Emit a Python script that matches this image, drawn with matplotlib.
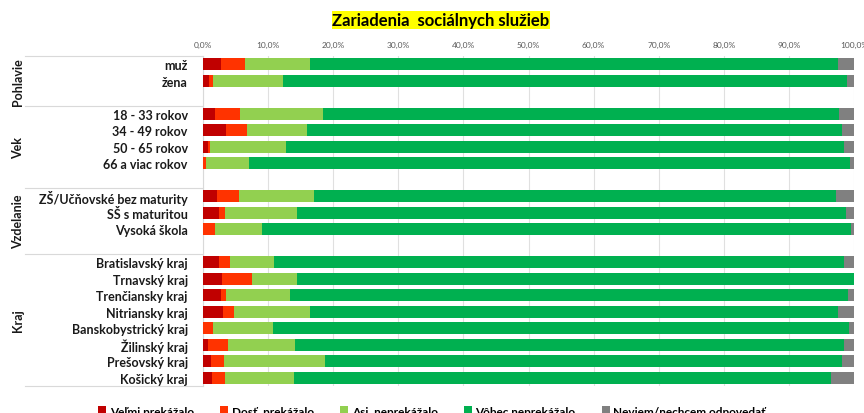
import numpy as np
import matplotlib.pyplot as plt

plt.rcParams['font.family'] = ['Lato', 'DejaVu Sans']

# skupiny a kategórie (prázdny riadok za každou skupinou okrem poslednej)
skupiny = ['Pohlavie', 'Vek', 'Vzdelanie', 'Kraj']
kategorie = [
    ['muž', 'žena'],
    ['18 - 33 rokov', '34 - 49 rokov', '50 - 65 rokov', '66 a viac rokov'],
    ['ZŠ/Učňovské bez maturity', 'SŠ s maturitou', 'Vysoká škola'],
    ['Bratislavský kraj', 'Trnavský kraj', 'Trenčiansky kraj', 'Nitriansky kraj',
     'Banskobystrický kraj', 'Žilinský kraj', 'Prešovský kraj', 'Košický kraj'],
]

velmi = [2.7, 0.9, 1.9, 3.6, 0.8, 0.0, 2.2, 2.4, 0.0,
         2.5, 2.9, 2.7, 3.1, 0.0, 0.7, 1.3, 1.4]
dost = [3.8, 0.6, 3.8, 3.2, 0.3, 0.5, 3.4, 1.0, 1.8,
        1.6, 4.7, 0.8, 1.6, 1.5, 3.2, 2.0, 2.0]
asi = [9.9, 10.8, 12.7, 9.2, 11.7, 6.5, 11.4, 11.0, 7.2,
       6.8, 6.8, 9.9, 11.8, 9.2, 10.2, 15.5, 10.6]
vobec = [81.1, 86.7, 79.3, 82.1, 85.7, 92.4, 80.2, 84.4, 90.6,
         87.5, 85.6, 85.7, 81.1, 88.5, 84.4, 79.3, 82.5]
neviem = [2.5, 1.0, 2.3, 1.9, 1.5, 0.6, 2.8, 1.2, 0.4,
          1.6, 0.0, 0.9, 2.4, 0.8, 1.5, 1.9, 3.5]

nazvy = ['Veľmi prekážalo', 'Dosť  prekážalo', 'Asi  neprekážalo',
         'Vôbec neprekážalo', 'Neviem/nechcem odpovedať']
farby = ['#C00000', '#FF3300', '#92D050', '#00B050', '#808080']

# pozície riadkov
pozicie = []
hranice = [0]
slot = 0
for i, k in enumerate(kategorie):
    for _ in k:
        pozicie.append(slot + 0.5)
        slot += 1
    if i < len(kategorie) - 1:
        slot += 1
    hranice.append(slot)
pozicie = np.array(pozicie)
labels = [c for k in kategorie for c in k]

fig = plt.figure(figsize=(8.64, 4.14), dpi=100)
ax = fig.add_axes([203 / 864, 27 / 414, 651 / 864, 330 / 414])

left = np.zeros(len(labels))
for vals, farba, nazov in zip([velmi, dost, asi, vobec, neviem], farby, nazvy):
    ax.barh(pozicie, vals, left=left, height=0.72, color=farba, label=nazov, zorder=3)
    left += np.array(vals)

ax.set_xlim(0, 100)
ax.set_ylim(slot, 0)
ax.set_xticks(np.arange(0, 101, 10))
ax.set_xticklabels([f'{v:.1f}%'.replace('.', ',') for v in range(0, 101, 10)],
                   fontsize=6, color='#595959')
ax.xaxis.tick_top()
ax.tick_params(axis='x', length=0, pad=6)
ax.set_yticks(pozicie)
ax.set_yticklabels(labels, fontsize=9, fontweight='bold', color='#1a1a1a')
ax.tick_params(axis='y', length=0, pad=11)
ax.grid(axis='x', color='#E0E0E0', linewidth=0.8, zorder=0)
for s in ['top', 'right', 'bottom']:
    ax.spines[s].set_visible(False)
ax.spines['left'].set_color('#D9D9D9')

# čiary skupín a názvy skupín
tr = ax.get_yaxis_transform()
x0 = (25 - 203) / 651
for h in hranice:
    ax.plot([x0, 0], [h, h], color='#D9D9D9', linewidth=0.8, transform=tr, clip_on=False)
for i, g in enumerate(skupiny):
    stred = (hranice[i] + hranice[i + 1]) / 2
    ax.text((18 - 203) / 651, stred, g, rotation=90, ha='center', va='center',
            fontsize=9, fontweight='bold', color='#1a1a1a', transform=tr)

fig.text(441 / 864, 1 - 21 / 414, 'Zariadenia  sociálnych služieb', ha='center', va='center',
         fontsize=12, fontweight='bold',
         bbox=dict(facecolor='#FFFF00', edgecolor='none', pad=0.5))

fig.legend(loc='upper center', bbox_to_anchor=(0.5, 1 - 396 / 414), ncol=5,
           frameon=False, handlelength=0.7, handleheight=0.7,
           handletextpad=0.3, columnspacing=2.2,
           prop={'weight': 'bold', 'size': 8.5})

fig.savefig('out.png', dpi=100)
